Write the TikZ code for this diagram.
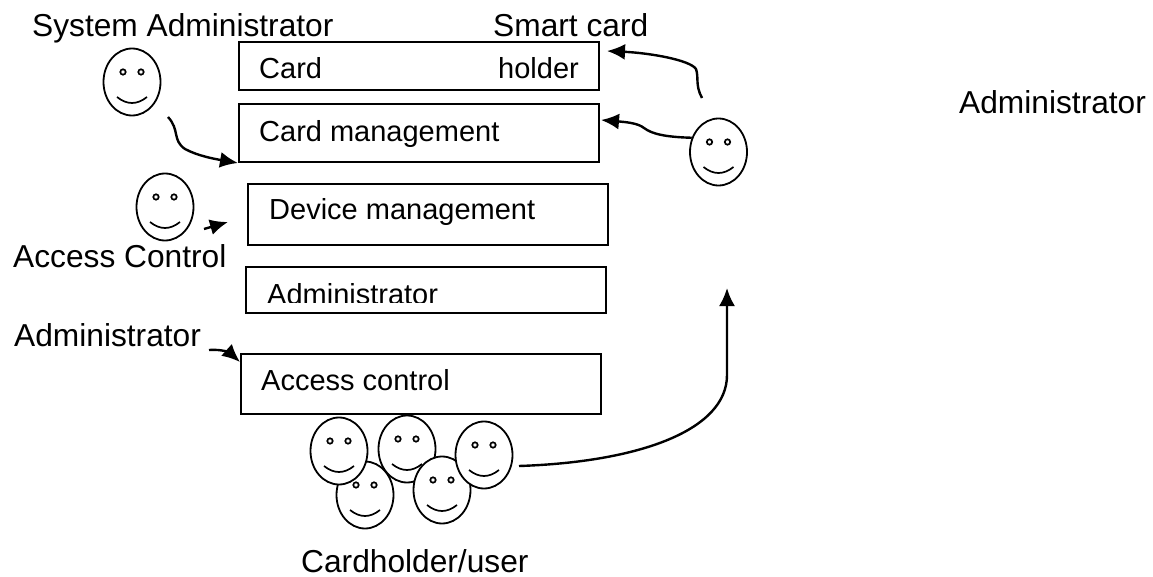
\documentclass[tikz,border=0pt]{standalone}
\usepackage{fontspec}
\setmainfont{Liberation Sans}
\usetikzlibrary{scopes,arrows.meta,shapes.geometric}
\newcommand{\smiley}[2]{
    \node[face] (#1) at (#2) {};
    \draw[eye] ([shift={(-9,-10)}]#1.center) circle (2.7pt);
    \draw[eye] ([shift={(9,-10)}]#1.center) circle (2.7pt);
    \draw[eye] ([shift={(-15,15)}]#1.center) .. controls ([shift={(-5,23)}]#1.center) and ([shift={(5,23)}]#1.center) .. ([shift={(15,15)}]#1.center);
}
\begin{document}
\begin{tikzpicture}[
    x=1pt,y=-1pt,
    layerbox/.style={rectangle,draw=black,line width=2pt,minimum height=#1,minimum width=360pt,anchor=north west,inner sep=0pt},
    boxtext/.style={anchor=base west,inner sep=0pt,font=\fontsize{29}{32}\selectfont},
    outtext/.style={anchor=base west,inner sep=0pt,font=\fontsize{31.7}{35}\selectfont},
    face/.style={ellipse,draw=black,fill=white,line width=1.8pt,minimum width=57pt,minimum height=67pt,inner sep=0pt},
    eye/.style={draw=black,line width=1.7pt},
    flow/.style={-{Latex[length=18pt,width=16pt]},line width=2.4pt},
]
    \useasboundingbox (0,0) rectangle (1153,577);
    % stacked boxes
    \node[layerbox=48pt] (holderbox) at (238,41) {};
    \node[layerbox=58pt] (mgmtbox) at (238,103) {};
    \node[layerbox=61pt] (devicebox) at (247,183) {};
    \node[layerbox=46pt] (adminbox) at (245,266) {};
    \node[layerbox=60pt] (accessbox) at (240,353) {};
    \node[boxtext] (cardtext) at (259,79) {Card};
    \node[boxtext] (holdertext) at (498,79) {holder};
    \node[boxtext] (mgmttext) at (259,142) {Card management};
    \node[boxtext] (devicetext) at (269,220) {Device management};
    \begin{scope}
        \clip (250,270) rectangle (600,302);
        \node[boxtext] (admintext) at (267,304) {Administrator};
    \end{scope}
    \node[boxtext] (accesstext) at (261,390) {Access control};
    % outside labels
    \node[outtext] (syslabel) at (32,37) {System Administrator};
    \node[outtext] (smartlabel) at (493,37) {Smart card};
    \node[outtext] (controllabel) at (13,267) {Access Control};
    \node[outtext] (adminlabel) at (14,346) {Administrator};
    \node[outtext] (rightlabel) at (959,114) {Administrator};
    \node[outtext] (userlabel) at (301,572) {Cardholder/user};
    % faces
    \smiley{sysface}{132,82}
    \smiley{controlface}{165,207}
    \smiley{smartface}{718.5,152}
    \foreach \n/\p in {usera/{365,495},userb/{339,451},userc/{407,449},userd/{442,490},usere/{484,455}}{
        \smiley{\n}{\p}
    }
    % free ends
    \coordinate (sysstart) at (168,117);
    \coordinate (controlstart) at (204,229);
    \coordinate (controlend) at (228,222);
    \coordinate (adminstart) at (209,350);
    \coordinate (accessend) at (240,362);
    \coordinate (smartstart) at (702,98);
    \coordinate (holderend) at (607,51);
    \coordinate (mgmtend) at (601,120);
    \coordinate (userstart) at (519,466);
    \coordinate (userend) at (727,288);
    {[flow]
        \draw (sysstart) .. controls (180,130) and (172,140) .. (185,149) .. controls (198,156) and (215,159) .. (mgmtbox.south west);
        \draw (controlstart) -- (controlend);
        \draw (adminstart) .. controls (222,349) and (230,353) .. (accessend);
        \draw (smartstart) .. controls (695,85) and (699,78) .. (696,69) .. controls (690,60) and (650,53) .. (holderend);
        \draw (smartface.152) .. controls (665,137) and (652,134) .. (644,128) .. controls (638,123) and (625,122) .. (mgmtend);
        \draw (userstart) .. controls (640,462) and (727,430) .. (727,375) -- (userend);
    }
\end{tikzpicture}
\end{document}
